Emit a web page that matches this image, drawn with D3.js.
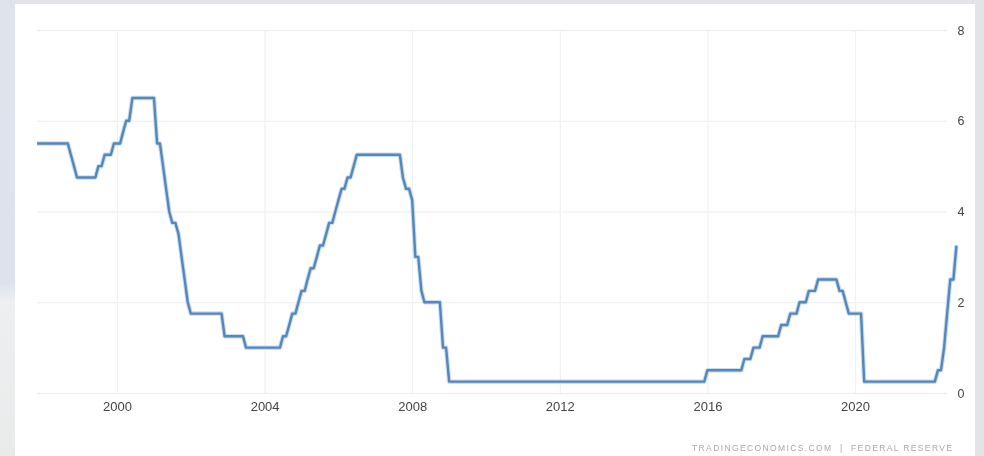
<!DOCTYPE html>
<html>
<head>
<meta charset="utf-8">
<script src="https://cdn.jsdelivr.net/npm/d3@7"></script>
<style>
  html, body { margin: 0; padding: 0; background: #e3e4e7; }
  svg { display: block; filter: blur(0.45px); }
  text { font-family: "Liberation Sans", Arial, sans-serif; }
</style>
</head>
<body>
<div id="chart"></div>
<script>
// Fed funds rate (upper target), monthly vertices
const months = [
  '1997-10', '1998-08', '1998-09', '1998-10', '1998-11', '1999-05', '1999-06',
  '1999-07', '1999-08', '1999-10', '1999-11', '2000-01', '2000-02', '2000-03',
  '2000-04', '2000-05', '2000-12', '2001-01', '2001-02', '2001-03', '2001-04',
  '2001-05', '2001-06', '2001-07', '2001-08', '2001-09', '2001-10', '2001-11',
  '2001-12', '2002-10', '2002-11', '2003-05', '2003-06', '2004-05', '2004-06',
  '2004-07', '2004-08', '2004-09', '2004-10', '2004-11', '2004-12', '2005-01',
  '2005-02', '2005-03', '2005-04', '2005-05', '2005-06', '2005-07', '2005-08',
  '2005-09', '2005-10', '2005-11', '2005-12', '2006-01', '2006-02', '2006-03',
  '2006-04', '2006-05', '2006-06', '2007-08', '2007-09', '2007-10', '2007-11',
  '2007-12', '2008-01', '2008-02', '2008-03', '2008-04', '2008-09', '2008-10',
  '2008-11', '2008-12', '2015-11', '2015-12', '2016-11', '2016-12', '2017-02',
  '2017-03', '2017-05', '2017-06', '2017-11', '2017-12', '2018-02', '2018-03',
  '2018-05', '2018-06', '2018-08', '2018-09', '2018-11', '2018-12', '2019-06',
  '2019-07', '2019-08', '2019-09', '2019-10', '2020-02', '2020-03', '2022-02',
  '2022-03', '2022-04', '2022-05', '2022-06', '2022-07', '2022-08', '2022-09'
];
const rates = [
  5.5, 5.5, 5.25, 5.0, 4.75, 4.75, 5.0,
  5.0, 5.25, 5.25, 5.5, 5.5, 5.75, 6.0,
  6.0, 6.5, 6.5, 5.5, 5.5, 5.0, 4.5,
  4.0, 3.75, 3.75, 3.5, 3.0, 2.5, 2.0,
  1.75, 1.75, 1.25, 1.25, 1.0, 1.0, 1.25,
  1.25, 1.5, 1.75, 1.75, 2.0, 2.25, 2.25,
  2.5, 2.75, 2.75, 3.0, 3.25, 3.25, 3.5,
  3.75, 3.75, 4.0, 4.25, 4.5, 4.5, 4.75,
  4.75, 5.0, 5.25, 5.25, 4.75, 4.5, 4.5,
  4.25, 3.0, 3.0, 2.25, 2.0, 2.0, 1.0,
  1.0, 0.25, 0.25, 0.5, 0.5, 0.75, 0.75,
  1.0, 1.0, 1.25, 1.25, 1.5, 1.5, 1.75,
  1.75, 2.0, 2.0, 2.25, 2.25, 2.5, 2.5,
  2.25, 2.25, 2.0, 1.75, 1.75, 0.25, 0.25,
  0.5, 0.5, 1.0, 1.75, 2.5, 2.5, 3.25
];
const xTickYears = [2000, 2004, 2008, 2012, 2016, 2020];
const yTicks = [0, 2, 4, 6, 8];
const sourceText = 'TRADINGECONOMICS.COM  |  FEDERAL RESERVE';

// page / card sizes
let svgWidth = 984;
let svgHeight = 456;
let card = { left: 15, top: 4, right: 975 };
let plot = { left: 37, right: 947, top: 30, bottom: 393 };

let parseMonth = d3.timeParse('%Y-%m');

// each monthly value is plotted at the end of its month
let data = months.map((m, i) => ({
  date: d3.timeMonth.offset(parseMonth(m), 1),
  rate: rates[i]
}));

let svg = d3.select('#chart')
  .append('svg')
  .attr('width', svgWidth)
  .attr('height', svgHeight);

// soft bluish backdrop on the left edge
let defs = svg.append('defs');
let grad = defs.append('linearGradient')
  .attr('id', 'leftEdge')
  .attr('x1', 0).attr('y1', 0).attr('x2', 0).attr('y2', 1);
grad.append('stop').attr('offset', '0%').attr('stop-color', '#dfe3ec');
grad.append('stop').attr('offset', '62%').attr('stop-color', '#dde2ec');
grad.append('stop').attr('offset', '66%').attr('stop-color', '#eeeff0');
grad.append('stop').attr('offset', '100%').attr('stop-color', '#e9eaea');

svg.append('rect')
  .attr('width', svgWidth)
  .attr('height', svgHeight)
  .attr('fill', '#e3e4e7');
svg.append('rect')
  .attr('width', card.left)
  .attr('height', svgHeight)
  .attr('fill', 'url(#leftEdge)');

// white card
svg.append('rect')
  .attr('x', card.left)
  .attr('y', card.top)
  .attr('width', card.right - card.left)
  .attr('height', svgHeight - card.top)
  .attr('fill', '#ffffff');

// scales
let x = d3.scaleTime()
  .domain([new Date(2000, 0, 1), new Date(2020, 0, 1)])
  .range([117, 855]);

let y = d3.scaleLinear()
  .domain([0, 8])
  .range([plot.bottom, plot.top]);

// horizontal grid
let yAxis = svg.append('g')
  .attr('transform', `translate(${plot.right}, 0)`)
  .call(d3.axisRight(y).tickValues(yTicks).tickSize(-(plot.right - plot.left)).tickPadding(10))
  .call(g => g.select('.domain').remove());

yAxis.selectAll('.tick line')
  .attr('stroke', '#ececec')
  .attr('stroke-width', 1.2);

yAxis.selectAll('.tick text')
  .attr('fill', '#444')
  .attr('font-size', '12.5px')
  .attr('text-anchor', 'middle')
  .attr('x', 14)
  .attr('font-family', '"Liberation Sans", Arial, sans-serif');

// vertical grid + year labels
let xAxis = svg.append('g')
  .attr('transform', `translate(0, ${plot.bottom})`)
  .call(d3.axisBottom(x)
    .tickValues(xTickYears.map(yr => new Date(yr, 0, 1)))
    .tickFormat(d3.timeFormat('%Y'))
    .tickSize(-(plot.bottom - plot.top))
    .tickPadding(9))
  .call(g => g.select('.domain').remove());

xAxis.selectAll('.tick line')
  .attr('stroke', '#f0f0f0')
  .attr('stroke-width', 1.2);

xAxis.selectAll('.tick text')
  .attr('fill', '#444')
  .attr('font-size', '13px')
  .attr('font-family', '"Liberation Sans", Arial, sans-serif');

// rate line
let line = d3.line()
  .x(d => x(d.date))
  .y(d => y(d.rate));

svg.append('path')
  .datum(data)
  .attr('fill', 'none')
  .attr('stroke', '#c9dcef')
  .attr('stroke-width', 4.5)
  .attr('stroke-linejoin', 'round')
  .attr('d', line);

svg.append('path')
  .datum(data)
  .attr('fill', 'none')
  .attr('stroke', '#5587ba')
  .attr('stroke-width', 2.4)
  .attr('stroke-linejoin', 'round')
  .attr('d', line);

// source note
svg.append('text')
  .attr('x', 952)
  .attr('y', 451)
  .attr('text-anchor', 'end')
  .attr('fill', '#a8a8a8')
  .attr('font-size', '8.5px')
  .attr('textLength', 260)
  .attr('lengthAdjust', 'spacing')
  .style('white-space', 'pre')
  .text(sourceText);
</script>
</body>
</html>
